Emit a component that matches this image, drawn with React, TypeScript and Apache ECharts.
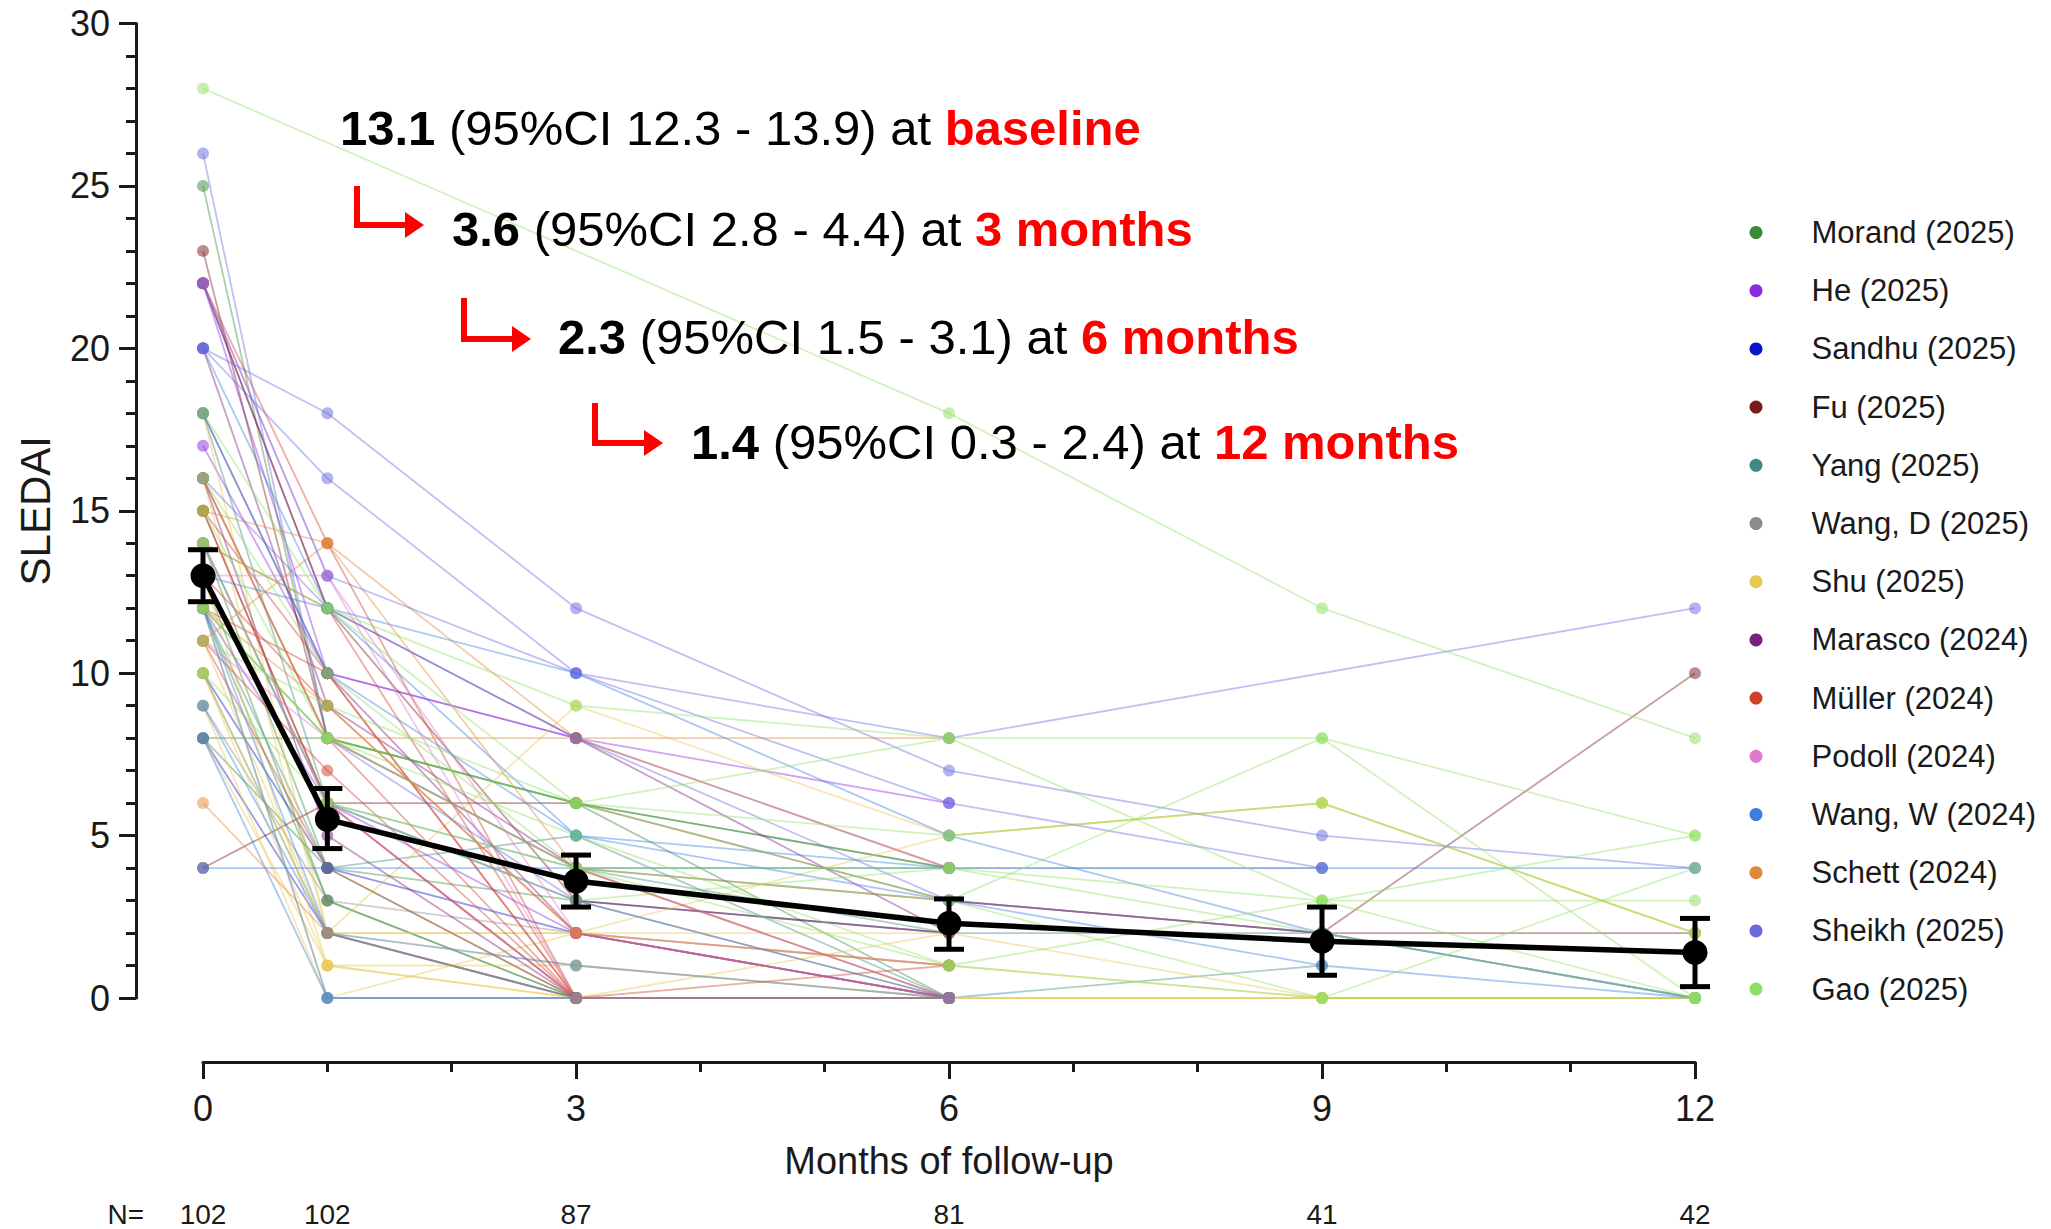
import React, { useEffect, useRef } from 'react';
import * as echarts from 'echarts';

const F = '"Liberation Sans", Arial, Helvetica, sans-serif';

// ---------- data ----------
const months = [0, 1, 3, 6, 9, 12];
const nCounts = [102, 102, 87, 81, 41, 42];
const meanValues = [13.0, 5.5, 3.6, 2.3, 1.75, 1.4];
const ciLower = [12.2, 4.6, 2.8, 1.5, 0.7, 0.35];
const ciUpper = [13.8, 6.45, 4.4, 3.05, 2.8, 2.45];

const studies = [
  'Morand (2025)', 'He (2025)', 'Sandhu (2025)', 'Fu (2025)', 'Yang (2025)',
  'Wang, D (2025)', 'Shu (2025)', 'Marasco (2024)', 'Müller (2024)', 'Podoll (2024)',
  'Wang, W (2024)', 'Schett (2024)', 'Sheikh (2025)', 'Gao (2025)',
];
const studyColors = [
  '#3a8a3a', '#8a2be2', '#0a14c8', '#7a1a1a', '#3d8a85',
  '#8c8c8c', '#e8c850', '#7a1f7a', '#d0402a', '#e07ad0',
  '#3a7fe0', '#e0883a', '#6868e0', '#8ee060',
];

// SLEDAI per patient at months [0, 1, 3, 6, 9, 12]
const morand = [
  [25, 8, 6, 4, null, null], [14, 4, 0, 0, null, null], [12, 3, 0, 0, null, null],
  [8, 8, 6, 4, null, null], [8, 4, 3, 0, null, null], [13, 3, 0, 0, null, null],
  [12, 8, 6, 0, null, null],
];
const he = [[22, 10, 8, 6, null, null], [17, 10, 8, 4, null, null], [12, 6, 2, 1, null, null]];
const sandhu = [[10, 4, 2, 0, null, null], [8, 2, 0, 0, null, null], [14, 6, 3, 2, null, null]];
const fu = [
  [23, 8, 4, 3, 2, 10], [4, 6, 6, 3, 2, 2], [15, 6, 0, 0, null, null], [22, 12, 3, 2, null, null],
];
const yang = [[12, 4, 5, 0, 1, null], [10, 2, 0, 0, null, null], [18, 6, 4, 2, 2, 0]];
const wangD = [[16, 8, 4, 4, 4, null], [9, 3, 2, 0, null, null]];
const shu = [
  [18, 2, 2, 1, 0, 0], [10, 1, 1, 0, null, null], [9, 0, 0, 0, 0, 0], [16, 2, 9, 5, 6, 2],
  [10, 2, 1, 0, 0, 0], [12, 0, 2, 5, 6, 2], [8, 1, 0, 2, 0, 0], [11, 2, 2, 2, null, null],
  [13, 1, 0, 0, 0, 0],
];
const marasco = [
  [22, 12, 8, 2, null, null], [16, 5, 0, 0, null, null], [20, 9, 4, 0, null, null],
  [18, 10, 2, 0, null, null],
];
const muller = [
  [16, 8, 0, 0, null, null], [15, 6, 0, 0, null, null], [11, 4, 0, 0, null, null],
  [15, 10, 0, 1, null, null], [22, 14, 0, 0, null, null], [13, 9, 2, 0, null, null],
  [11, 7, 0, 0, null, null], [14, 12, 0, 0, null, null], [12, 10, 0, null, null, null],
];
const podoll = [
  [22, 13, 2, 0, null, null], [14, 6, 0, 0, null, null], [11, 8, 4, 0, null, null],
  [13, 13, 0, 0, null, null],
];
const wangW = [
  [4, 4, 4, 4, 4, 4], [20, 12, 10, 5, 2, 0], [13, 12, 5, 4, null, null],
  [8, 0, 0, 0, null, null], [12, 2, 1, 0, null, null], [18, 10, 5, 3, 1, 0],
  [12, 0, 0, 0, null, null], [9, 2, 0, null, null, null],
];
const schett = [
  [16, 8, 8, 8, null, null], [6, 2, 0, 0, null, null], [15, 14, 4, 0, null, null],
  [12, 9, 2, 1, null, null], [11, 14, 8, 4, null, null],
];
const sheikh = [
  [26, 8, 3, 0, null, null], [20, 18, 12, 7, 5, 4], [20, 16, 10, 6, 4, null],
  [22, 13, 10, 8, null, 12], [16, 12, 8, 3, 2, 0],
];
const gao = [
  [28, null, null, 18, 12, 8], [14, 12, 6, 8, 8, 5], [12, 8, 5, 1, 3, 5], [10, 6, 4, 3, 8, 0],
  [12, 8, 6, 5, 6, 2], [16, 10, 4, 1, 0, 4], [18, 12, 9, 8, 3, 0], [14, 6, 3, 4, 2, 0],
  [15, 8, 4, 4, 3, 3], [11, 9, 6, 3, 0, 0],
];
const trajectories = [morand, he, sandhu, fu, yang, wangD, shu, marasco, muller, podoll, wangW, schett, sheikh, gao];

const annotationValues = ['13.1', '3.6', '2.3', '1.4'];
const annotationCIs = ['12.3 - 13.9', '2.8 - 4.4', '1.5 - 3.1', '0.3 - 2.4'];
const annotationTimes = ['baseline', '3 months', '6 months', '12 months'];

// ---------- layout ----------
const textX = [340, 452, 558, 691];
const textY = [128, 229, 337, 442];
const arrowX = [357, 464, 595];
const arrowTop = [186, 298, 403];
const arrowY = [225, 339, 443];
const arrowTip = [424, 531, 663];

export default function App() {
  const ref = useRef<HTMLDivElement>(null);
  useEffect(() => {
    if (!ref.current) return;
    const chart = echarts.init(ref.current, undefined, { renderer: 'svg' });

    const patientSeries: any[] = [];
    trajectories.forEach((list, si) => {
      list.forEach((traj) => {
        const data = months
          .map((m, i) => [m, traj[i]])
          .filter((p) => p[1] !== null && p[1] !== undefined);
        patientSeries.push({
          type: 'line',
          name: studies[si],
          xAxisIndex: 0,
          yAxisIndex: 0,
          data,
          symbol: 'circle',
          symbolSize: 12,
          clip: false,
          silent: true,
          z: 2,
          lineStyle: { width: 1.8, color: studyColors[si], opacity: 0.42 },
          itemStyle: { color: studyColors[si], opacity: 0.5 },
          emphasis: { disabled: true },
        });
      });
    });

    const graphics: any[] = [];
    annotationValues.forEach((v, i) => {
      graphics.push({
        type: 'text',
        x: textX[i],
        y: textY[i],
        z: 100,
        style: {
          text: `{b|${v}}{n| (95%CI ${annotationCIs[i]}) at }{r|${annotationTimes[i]}}`,
          verticalAlign: 'middle',
          font: `49px ${F}`,
          rich: {
            b: { fontSize: 49, fontWeight: 'bold', fill: '#000', fontFamily: F },
            n: { fontSize: 49, fill: '#000', fontFamily: F },
            r: { fontSize: 49, fontWeight: 'bold', fill: '#ff0000', fontFamily: F },
          },
        },
      });
    });
    arrowX.forEach((ax, i) => {
      graphics.push({
        type: 'polyline',
        z: 100,
        shape: { points: [[ax, arrowTop[i]], [ax, arrowY[i]], [arrowTip[i] - 16, arrowY[i]]] },
        style: { stroke: '#ff0000', lineWidth: 6, fill: null, lineJoin: 'miter' },
      });
      graphics.push({
        type: 'polygon',
        z: 100,
        shape: { points: [[arrowTip[i] - 19, arrowY[i] - 13], [arrowTip[i], arrowY[i]], [arrowTip[i] - 19, arrowY[i] + 13]] },
        style: { fill: '#ff0000' },
      });
    });

    const axisColor = '#1a1a1a';
    chart.setOption({
      animation: false,
      backgroundColor: '#ffffff',
      grid: [
        { left: 136, top: 23.5, width: 1559, height: 974.5 },
        { left: 203, top: 1061, width: 1492, height: 1 },
        { left: 203, top: 1213, width: 1492, height: 1 },
      ],
      xAxis: [
        { gridIndex: 0, type: 'value', min: -0.539, max: 12, show: false },
        {
          gridIndex: 1, type: 'value', min: 0, max: 12, interval: 3,
          axisLine: { show: true, onZero: false, lineStyle: { color: axisColor, width: 3 } },
          axisTick: { show: true, length: 17, lineStyle: { color: axisColor, width: 3 } },
          minorTick: { show: true, splitNumber: 3, length: 10, lineStyle: { color: axisColor, width: 3 } },
          splitLine: { show: false },
          axisLabel: { fontSize: 36, color: axisColor, margin: 28, fontFamily: F },
          name: 'Months of follow-up', nameLocation: 'middle', nameGap: 80,
          nameTextStyle: { fontSize: 38, color: axisColor, fontFamily: F },
        },
        {
          gridIndex: 2, type: 'value', min: 0, max: 12,
          axisLine: { show: false, onZero: false }, axisTick: { show: false }, splitLine: { show: false },
          axisLabel: {
            customValues: months,
            formatter: (v: number) => String(nCounts[months.indexOf(v)] ?? ''),
            fontSize: 28, color: axisColor, margin: 0, verticalAlign: 'middle', fontFamily: F,
          },
          name: 'N=', nameLocation: 'start', nameGap: 59,
          nameTextStyle: { fontSize: 28, color: axisColor, fontFamily: F },
        },
      ],
      yAxis: [
        {
          gridIndex: 0, type: 'value', min: 0, max: 30, interval: 5,
          axisLine: { show: true, onZero: false, lineStyle: { color: axisColor, width: 3 } },
          axisTick: { show: true, length: 17, lineStyle: { color: axisColor, width: 3 } },
          minorTick: { show: true, splitNumber: 5, length: 10, lineStyle: { color: axisColor, width: 3 } },
          splitLine: { show: false },
          axisLabel: { fontSize: 36, color: axisColor, margin: 26, fontFamily: F },
          name: 'SLEDAI', nameLocation: 'middle', nameGap: 80, nameRotate: 90,
          nameTextStyle: { fontSize: 42, color: axisColor, fontFamily: F },
        },
        { gridIndex: 1, type: 'value', min: 0, max: 1, show: false },
        { gridIndex: 2, type: 'value', min: 0, max: 1, show: false },
      ],
      legend: {
        orient: 'vertical',
        left: 1744.5,
        top: 211.5,
        itemGap: 26.2,
        itemWidth: 13,
        itemHeight: 13,
        icon: 'circle',
        selectedMode: false,
        textStyle: { fontSize: 31, lineHeight: 32, color: '#1a1a1a', fontFamily: F, padding: [0, 0, 0, 44] },
        data: studies.map((s, i) => ({ name: s, icon: 'circle', itemStyle: { color: studyColors[i], opacity: 1 } })),
      },
      series: [
        ...patientSeries,
        {
          type: 'line',
          name: 'Mean',
          xAxisIndex: 0,
          yAxisIndex: 0,
          data: months.map((m, i) => [m, meanValues[i]]),
          symbol: 'circle',
          symbolSize: 25,
          clip: false,
          silent: true,
          z: 5,
          lineStyle: { color: '#000', width: 5.5 },
          itemStyle: { color: '#000' },
          emphasis: { disabled: true },
        },
        {
          type: 'custom',
          name: 'CI',
          xAxisIndex: 0,
          yAxisIndex: 0,
          clip: false,
          silent: true,
          z: 6,
          encode: { x: 0, y: [1, 2] },
          data: months.map((m, i) => [m, ciLower[i], ciUpper[i]]),
          renderItem: (params: any, api: any) => {
            const x = api.value(0);
            const lo = api.coord([x, api.value(1)]);
            const hi = api.coord([x, api.value(2)]);
            const w = 15;
            const st = { stroke: '#000', lineWidth: 5 };
            return {
              type: 'group',
              children: [
                { type: 'line', shape: { x1: lo[0], y1: lo[1], x2: hi[0], y2: hi[1] }, style: st },
                { type: 'line', shape: { x1: lo[0] - w, y1: lo[1], x2: lo[0] + w, y2: lo[1] }, style: st },
                { type: 'line', shape: { x1: hi[0] - w, y1: hi[1], x2: hi[0] + w, y2: hi[1] }, style: st },
              ],
            };
          },
        },
      ],
      graphic: graphics,
    });
    return () => chart.dispose();
  }, []);
  return (
    <div
      ref={ref}
      style={{ position: 'fixed', left: 0, top: 0, width: 2051, height: 1229, background: '#fff' }}
    />
  );
}
